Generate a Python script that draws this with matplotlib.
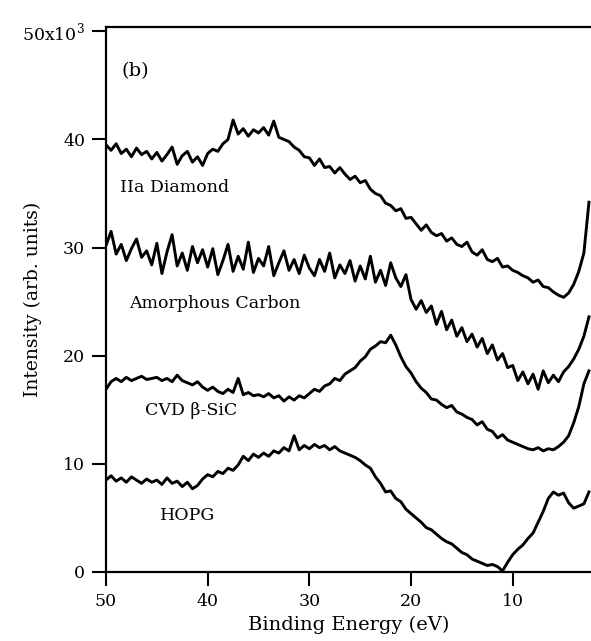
import numpy as np
import matplotlib
matplotlib.use("Agg")
import matplotlib.pyplot as plt

# Binding energy grid (eV), 50 -> 2.5 in 0.5 eV steps
energy = np.arange(50.0, 2.4, -0.5)

diamond = [
    39.5, 39.0, 39.6, 38.7, 39.1, 38.4, 39.2, 38.6, 38.9, 38.2,
    38.8, 38.0, 38.6, 39.3, 37.7, 38.5, 38.9, 37.9, 38.4, 37.6,
    38.7, 39.1, 38.9, 39.6, 40.0, 41.8, 40.5, 41.0, 40.3, 40.9,
    40.6, 41.1, 40.4, 41.7, 40.2, 40.0, 39.8, 39.3, 39.0, 38.4,
    38.3, 37.6, 38.2, 37.4, 37.5, 36.9, 37.4, 36.8, 36.3, 36.6,
    36.0, 36.2, 35.4, 35.0, 34.8, 34.1, 33.9, 33.4, 33.6, 32.7,
    32.8, 32.2, 31.6, 32.1, 31.4, 31.1, 31.3, 30.6, 30.9, 30.3,
    30.1, 30.5, 29.6, 29.3, 29.8, 28.9, 28.7, 29.0, 28.2, 28.3,
    27.9, 27.7, 27.4, 27.2, 26.8, 27.0, 26.4, 26.3, 25.9, 25.6,
    25.4, 25.8, 26.6, 27.8, 29.5, 34.2,
]

amorphous = [
    30.2, 31.5, 29.4, 30.3, 28.8, 29.9, 30.8, 29.1, 29.7, 28.4,
    30.4, 27.6, 29.6, 31.2, 28.3, 29.5, 27.9, 30.1, 28.6, 29.8,
    28.2, 29.9, 27.5, 28.8, 30.3, 27.8, 29.2, 28.0, 30.5, 27.7,
    29.0, 28.3, 30.1, 27.4, 28.6, 29.7, 27.9, 28.9, 27.6, 29.3,
    28.1, 27.4, 28.9, 27.8, 29.5, 27.2, 28.4, 27.6, 28.8, 26.9,
    28.3, 27.1, 29.2, 26.8, 27.9, 26.5, 28.6, 27.2, 26.4, 27.5,
    25.2, 24.3, 25.1, 24.0, 24.6, 22.9, 24.1, 22.4, 23.3, 21.8,
    22.6, 21.3, 22.0, 20.8, 21.6, 20.2, 21.0, 19.6, 20.2, 18.9,
    19.1, 17.7, 18.5, 17.4, 18.3, 16.9, 18.6, 17.5, 18.2, 17.6,
    18.5, 19.0, 19.7, 20.6, 21.8, 23.6,
]

sic = [
    16.9, 17.6, 17.9, 17.6, 18.0, 17.7, 17.9, 18.1, 17.8, 17.9,
    18.0, 17.7, 17.9, 17.6, 18.2, 17.7, 17.5, 17.3, 17.6, 17.1,
    16.8, 17.1, 16.7, 16.5, 16.9, 16.6, 17.9, 16.4, 16.6, 16.3,
    16.4, 16.2, 16.5, 16.1, 16.3, 15.8, 16.2, 15.9, 16.3, 16.1,
    16.5, 16.9, 16.7, 17.2, 17.4, 17.9, 17.7, 18.3, 18.6, 18.9,
    19.5, 19.9, 20.6, 20.9, 21.3, 21.2, 21.9, 21.0, 19.9, 19.0,
    18.4, 17.6, 17.0, 16.6, 16.0, 15.9, 15.5, 15.2, 15.4, 14.8,
    14.6, 14.3, 14.1, 13.6, 13.9, 13.2, 13.0, 12.4, 12.7, 12.2,
    12.0, 11.8, 11.6, 11.4, 11.3, 11.5, 11.2, 11.4, 11.3, 11.6,
    12.0, 12.6, 13.8, 15.3, 17.4, 18.6,
]

hopg = [
    8.5, 8.9, 8.4, 8.7, 8.3, 8.8, 8.5, 8.2, 8.6, 8.3,
    8.5, 8.1, 8.7, 8.2, 8.4, 7.9, 8.3, 7.7, 8.0, 8.6,
    9.0, 8.8, 9.3, 9.1, 9.6, 9.4, 9.9, 10.7, 10.3, 10.9,
    10.6, 11.0, 10.7, 11.2, 11.0, 11.5, 11.2, 12.6, 11.3, 11.7,
    11.4, 11.8, 11.5, 11.7, 11.3, 11.6, 11.2, 11.0, 10.8, 10.6,
    10.3, 9.9, 9.6, 8.8, 8.2, 7.4, 7.5, 6.8, 6.5, 5.8,
    5.4, 5.0, 4.6, 4.1, 3.9, 3.5, 3.1, 2.8, 2.6, 2.2,
    1.8, 1.6, 1.2, 1.0, 0.8, 0.6, 0.7, 0.5, 0.1, 0.9,
    1.6, 2.1, 2.5, 3.1, 3.6, 4.6, 5.6, 6.8, 7.4, 7.1,
    7.3, 6.4, 5.9, 6.1, 6.3, 7.4,
]

series = [diamond, amorphous, sic, hopg]
labels = ["IIa Diamond", "Amorphous Carbon", "CVD \u03b2-SiC", "HOPG"]
label_pos = [(48.6, 35.6), (47.7, 24.8), (46.2, 14.9), (44.7, 5.2)]

yticks = [0, 10, 20, 30, 40, 50]
yticklabels = ["0", "10", "20", "30", "40", "50x10$^{3}$"]
xticks = [50, 40, 30, 20, 10]

plt.rcParams["font.family"] = ["DejaVu Serif"]
plt.rcParams["mathtext.fontset"] = "custom"
plt.rcParams["mathtext.rm"] = "DejaVu Serif"

fig = plt.figure(figsize=(5.91, 6.41), dpi=100)
ax = fig.add_axes([106 / 591, 69 / 641, 485 / 591, 545 / 641])

for s in series:
    ax.plot(energy, s, color="black", lw=2.1)

for lab, (lx, ly) in zip(labels, label_pos):
    ax.text(lx, ly, lab, fontsize=12.5, va="center", ha="left")

ax.text(48.5, 46.3, "(b)", fontsize=14, va="center", ha="left")

ax.set_xlim(50, 2.3)
ax.set_ylim(0, 50.4)
ax.set_xticks(xticks)
ax.set_yticks(yticks)
ax.set_yticklabels(yticklabels)
ax.tick_params(direction="out", length=10, width=1.5, labelsize=12.5, pad=5)
ax.spines["right"].set_visible(False)
for sp in ["left", "top", "bottom"]:
    ax.spines[sp].set_linewidth(1.6)

ax.set_xlabel("Binding Energy (eV)", fontsize=14, labelpad=4)
ax.set_ylabel("Intensity (arb. units)", fontsize=13.5)
ax.yaxis.set_label_coords(-0.132, 0.5)

fig.savefig("out.png", dpi=100)
